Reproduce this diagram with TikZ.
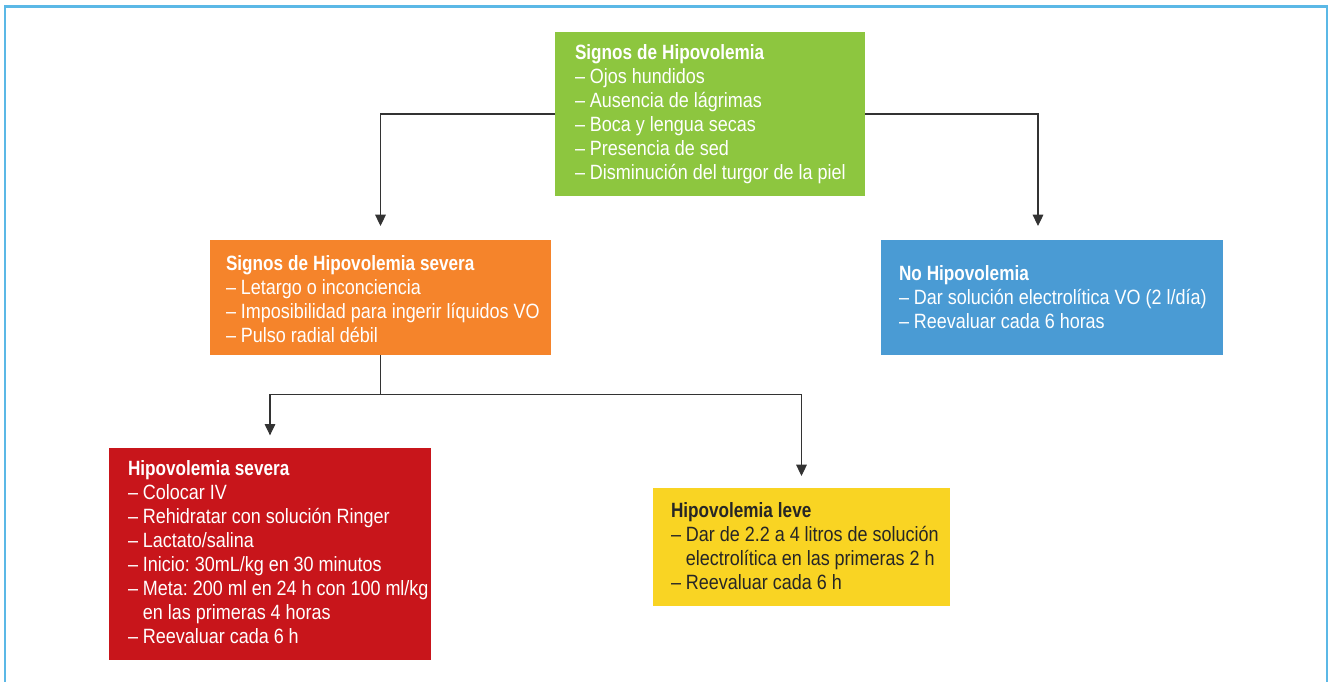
\documentclass[tikz,border=0pt]{standalone}
\usepackage{fontspec}
\setmainfont{Liberation Sans}[FakeStretch=0.87,BoldFeatures={FakeStretch=0.83}]
\usetikzlibrary{arrows.meta}

\definecolor{framec}{HTML}{5BB8E6}
\definecolor{greenc}{HTML}{8DC63F}
\definecolor{orangec}{HTML}{F5842B}
\definecolor{bluec}{HTML}{4A9BD4}
\definecolor{redc}{HTML}{C8151B}
\definecolor{yellowc}{HTML}{F9D423}
\definecolor{linec}{HTML}{333333}

\tikzset{
  box/.style={anchor=north west, inner sep=0pt, outer sep=0pt},
  txt/.style={anchor=north west, inner sep=0pt, outer sep=0pt, align=left,
    text width=400pt,
    font={\fontsize{15.5}{18}\selectfont\frenchspacing},
    execute at begin node={\spaceskip=0.24em\relax\xspaceskip=0.24em\relax},
    text=white},
  arr/.style={draw=linec, line width=0.8pt,
    -{Triangle[length=8.5pt,width=8pt]}},
  ln/.style={draw=linec, line width=0.8pt}
}

\begin{document}
\begin{tikzpicture}[x=0.75pt,y=-0.75pt]
  \useasboundingbox (0,0) rectangle (1333,681);
  % outer frame, open at the bottom edge of the page
  \draw[framec, line width=1.6pt] (5,690) -- (5,6.5) -- (1327,6.5) -- (1327,690);

  % coloured boxes
  \node[box, fill=greenc,  minimum width=232.5pt, minimum height=123pt] (green) at (555,32) {};
  \node[box, fill=orangec, minimum width=255.75pt, minimum height=86.25pt] (orange) at (210,240) {};
  \node[box, fill=bluec,   minimum width=256.5pt, minimum height=86.25pt] (blue) at (881,240) {};
  \node[box, fill=redc,    minimum width=241.5pt, minimum height=159pt] (red) at (109,448) {};
  \node[box, fill=yellowc, minimum width=222.75pt, minimum height=88.5pt] (yellow) at (653,488) {};

  % box texts
  \node[txt] (tgreen) at (575,43.2) {\strut\textbf{Signos de Hipovolemia}\\
    – Ojos hundidos\\
    – Ausencia de lágrimas\\
    – Boca y lengua secas\\
    – Presencia de sed\\
    – Disminución del turgor de la piel};
  \node[txt] (torange) at (226,253.2) {\strut\textbf{Signos de Hipovolemia severa}\\
    – Letargo o inconciencia\\
    – Imposibilidad para ingerir líquidos VO\\
    – Pulso radial débil};
  \node[txt] (tblue) at (899,263.7) {\strut\textbf{No Hipovolemia}\\
    – Dar solución electrolítica VO (2 l/día)\\
    – Reevaluar cada 6 horas};
  \node[txt] (tred) at (128,458.2) {\strut\textbf{Hipovolemia severa}\\
    – Colocar IV\\
    – Rehidratar con solución Ringer\\
    – Lactato/salina\\
    – Inicio: 30mL/kg en 30 minutos\\
    – Meta: 200 ml en 24 h con 100 ml/kg\\
    \phantom{– }en las primeras 4 horas\\
    – Reevaluar cada 6 h};
  \node[txt, text=black!85] (tyellow) at (671,500.2) {\strut\textbf{Hipovolemia leve}\\
    – Dar de 2.2 a 4 litros de solución\\
    \phantom{– }electrolítica en las primeras 2 h\\
    – Reevaluar cada 6 h};

  % connectors
  \coordinate (rtarget) at (1038,240);
  \coordinate (level) at (0,394.5);
  \coordinate (split) at (orange.south |- level);
  \draw[arr, shorten >=10.5pt] (green.west) -| (orange.north);
  \draw[arr, shorten >=10.5pt] (green.east) -| (rtarget);
  \draw[ln] (orange.south) -- (split);
  \draw[arr, shorten >=9.5pt] (split) -| (red.north);
  \draw[arr, shorten >=9pt] (split) -| (yellow.north);
\end{tikzpicture}
\end{document}
